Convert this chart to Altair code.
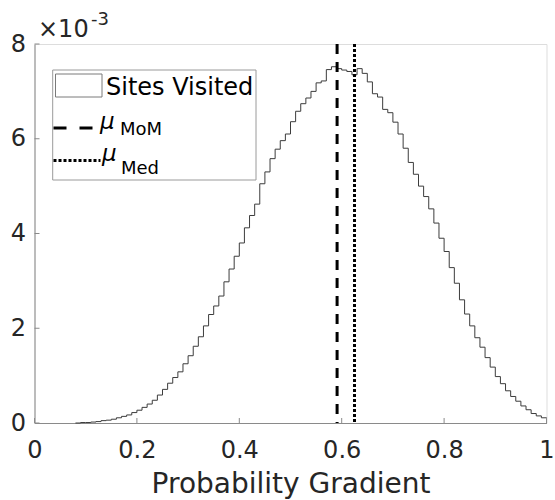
import altair as alt
import numpy as np
import pandas as pd

# ---- data (values in units of 1e-3) ----
bin_left = [round(0.08 + 0.01 * i, 2) for i in range(92)]
density = [
    0.00, 0.01, 0.01, 0.02, 0.03, 0.05, 0.06, 0.08, 0.11, 0.14,
    0.17, 0.22, 0.27, 0.33, 0.40, 0.48, 0.59, 0.71, 0.84, 0.96,
    1.08, 1.25, 1.42, 1.62, 1.82, 2.05, 2.29, 2.47, 2.68, 2.98,
    3.25, 3.52, 3.80, 4.12, 4.38, 4.62, 5.05, 5.30, 5.58, 5.78,
    5.96, 6.10, 6.36, 6.58, 6.74, 6.86, 7.00, 7.18, 7.22, 7.46,
    7.52, 7.48, 7.45, 7.42, 7.35, 7.48, 7.38, 7.20, 6.95, 6.88,
    6.62, 6.55, 6.35, 6.10, 5.80, 5.50, 5.25, 5.00, 4.78, 4.52,
    4.22, 3.90, 3.62, 3.28, 2.95, 2.60, 2.30, 2.05, 1.80, 1.60,
    1.38, 1.18, 0.98, 0.83, 0.68, 0.56, 0.46, 0.36, 0.28, 0.20,
    0.15, 0.11,
]
last_edge = 1.0
mu_mom = 0.591
mu_med = 0.625
x_ticks = [0, 0.2, 0.4, 0.6, 0.8, 1]
y_ticks = [0, 2, 4, 6, 8]

W, H = 512, 379
FONT = "DejaVu Sans"
AX = "#8a8a8a"

hist_df = pd.DataFrame({"x": bin_left + [last_edge], "y": density + [0.0]})
one = pd.DataFrame({"a": [0]})

xscale = alt.Scale(domain=[0, 1], nice=False, zero=False)
yscale = alt.Scale(domain=[0, 8], nice=False)

hist = alt.Chart(hist_df).mark_line(
    interpolate="step-after", color="#3c3c3c", strokeWidth=1
).encode(
    x=alt.X("x:Q", scale=xscale,
            axis=alt.Axis(values=x_ticks, format="~g", title="Probability Gradient",
                          grid=False, tickSize=0, labelPadding=15, labelFontSize=24,
                          labelFlush=False, labelOverlap=False,
                          labelFont=FONT, labelColor="#262626", domainColor=AX,
                          titleFont=FONT, titleFontSize=28, titleFontWeight="normal",
                          titleColor="#262626", titleBaseline="alphabetic", titleY=69)),
    y=alt.Y("y:Q", scale=yscale,
            axis=alt.Axis(values=y_ticks, format="d", title=None, grid=False,
                          labelFlush=False, labelOverlap=False,
                          tickSize=0, labelPadding=9, labelFontSize=24, labelFont=FONT,
                          labelColor="#262626", domainColor=AX)),
)

mom_rule = alt.Chart(pd.DataFrame({"x": [mu_mom]})).mark_rule(
    color="black", strokeWidth=3, strokeDash=[10, 8]
).encode(x=alt.X("x:Q", scale=xscale), y=alt.value(0), y2=alt.value(H))

med_rule = alt.Chart(pd.DataFrame({"x": [mu_med]})).mark_rule(
    color="black", strokeWidth=3, strokeDash=[3, 2]
).encode(x=alt.X("x:Q", scale=xscale), y=alt.value(0), y2=alt.value(H))

xt = alt.Chart(pd.DataFrame({"x": x_ticks})).mark_rule(color=AX, strokeWidth=1).encode(
    x=alt.X("x:Q", scale=xscale), y=alt.value(H), y2=alt.value(H - 5))
yt = alt.Chart(pd.DataFrame({"y": y_ticks})).mark_rule(color=AX, strokeWidth=1).encode(
    y=alt.Y("y:Q", scale=yscale), x=alt.value(0), x2=alt.value(5))

# legend box
leg_box = alt.Chart(one).mark_rect(fill="white", stroke="#9a9a9a", strokeWidth=1).encode(
    x=alt.value(18.2), x2=alt.value(221.5), y=alt.value(26), y2=alt.value(136))
leg_patch = alt.Chart(one).mark_rect(fill="white", stroke="#7a7a7a", strokeWidth=1).encode(
    x=alt.value(21), x2=alt.value(67.5), y=alt.value(30), y2=alt.value(53))
leg_t1 = alt.Chart(one).mark_text(text="Sites Visited", align="left", baseline="alphabetic",
                                  font=FONT, fontSize=24, color="black").encode(
    x=alt.value(71.5), y=alt.value(51))
leg_dash = alt.Chart(one).mark_rule(color="black", strokeWidth=3, strokeDash=[13, 13]).encode(
    x=alt.value(19), x2=alt.value(58), y=alt.value(84))
leg_mu1 = alt.Chart(one).mark_text(text="μ", align="left", baseline="alphabetic", font=FONT,
                                   fontSize=23, fontStyle="italic", color="black").encode(
    x=alt.value(65.5), y=alt.value(85))
leg_sub1 = alt.Chart(one).mark_text(text="MoM", align="left", baseline="alphabetic", font=FONT,
                                    fontSize=18, color="black").encode(
    x=alt.value(85.5), y=alt.value(91))
leg_dot = alt.Chart(one).mark_rule(color="black", strokeWidth=3, strokeDash=[3, 2]).encode(
    x=alt.value(19), x2=alt.value(66), y=alt.value(116.5))
leg_mu2 = alt.Chart(one).mark_text(text="μ", align="left", baseline="alphabetic", font=FONT,
                                   fontSize=23, fontStyle="italic", color="black").encode(
    x=alt.value(67.5), y=alt.value(117))
leg_sub2 = alt.Chart(one).mark_text(text="Med", align="left", baseline="alphabetic", font=FONT,
                                    fontSize=18, color="black").encode(
    x=alt.value(86.5), y=alt.value(130))

# exponent label
exp_base = alt.Chart(one).mark_text(text="×10", align="left", baseline="alphabetic", font=FONT,
                                    fontSize=24, color="#262626").encode(
    x=alt.value(3.5), y=alt.value(-7))
exp_sup = alt.Chart(one).mark_text(text="-3", align="left", baseline="alphabetic", font=FONT,
                                   fontSize=18, color="#262626").encode(
    x=alt.value(56.5), y=alt.value(-19))

chart = alt.layer(
    hist, mom_rule, med_rule, xt, yt,
    leg_box, leg_patch, leg_t1, leg_dash, leg_mu1, leg_sub1, leg_dot, leg_mu2, leg_sub2,
    exp_base, exp_sup,
).properties(
    width=W, height=H,
    autosize=alt.AutoSizeParams(type="none"),
    padding={"left": 34.5, "top": 44, "right": 8.5, "bottom": 77},
).configure_view(stroke=None).configure(background="white")

chart.save("out.html", embed_options={"renderer": "svg", "actions": False})
